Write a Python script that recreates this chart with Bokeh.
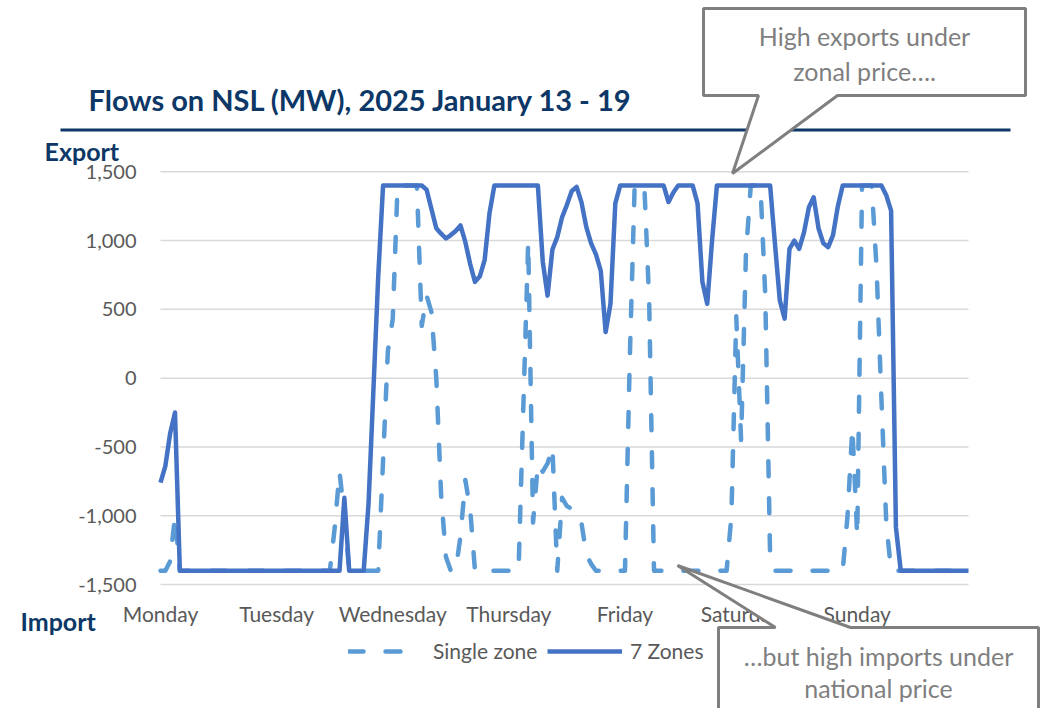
from bokeh.plotting import figure
from bokeh.models import (Range1d, FixedTicker, NumeralTickFormatter, Label,
                          PolyAnnotation, Legend, LegendItem)
from bokeh.embed import file_html
from bokeh.resources import INLINE

# Hourly flows on the NSL interconnector (MW), Monday 13 to Sunday 19 January 2025.
# Positive = export, negative = import.
hours = list(range(168))

day_ticks = [0, 24, 48, 72, 96, 120, 144]
day_labels = ["Monday", "Tuesday", "Wednesday", "Thursday", "Friday", "Saturday", "Sunday"]

# two rows per day, 12 hourly values per row
single_zone = [
    -1400, -1400, -1330, -1000, -1400, -1400, -1400, -1400, -1400, -1400, -1400, -1400,
    -1400, -1400, -1400, -1400, -1400, -1400, -1400, -1400, -1400, -1400, -1400, -1400,
    -1400, -1400, -1400, -1400, -1400, -1400, -1400, -1400, -1400, -1400, -1400, -1400,
    -1090, -680, -1000, -1400, -1400, -1400, -1400, -1400, -1400, -1400, -600, 200,
    430, 1400, 1400, 1400, 1400, 1400, 380, 600, 480, 0, -850, -1300,
    -1400, -1400, -1150, -740, -950, -1400, -1400, -1400, -1400, -1400, -1400, -1400,
    -1400, -1400, -1400, -200, 990, -1050, -620, -680, -620, -500, -1400, -870,
    -930, -950, -970, -1050, -1280, -1350, -1400, -1400, -1400, -1400, -1400, -1400,
    -1400, 150, 1400, 1400, 1400, 560, -1400, -1400, -1400, -1400, -1400, -1400,
    -1400, -1400, -1400, -1400, -1400, -1400, -1400, -1400, -1400, -1400, -1000, 450,
    -450, 900, 1400, 1400, 1400, 600, -1300, -1400, -1400, -1400, -1400, -1400,
    -1400, -1400, -1400, -1400, -1400, -1400, -1400, -1400, -1400, -1400, -1000, -360,
    -1150, 1400, 1400, 1400, 800, -150, -1050, -1400, -1400, -1400, -1400, -1400,
    -1400, -1400, -1400, -1400, -1400, -1400, -1400, -1400, -1400, -1400, -1400, -1400,
]

seven_zones = [
    -760, -640, -400, -250, -1400, -1400, -1400, -1400, -1400, -1400, -1400, -1400,
    -1400, -1400, -1400, -1400, -1400, -1400, -1400, -1400, -1400, -1400, -1400, -1400,
    -1400, -1400, -1400, -1400, -1400, -1400, -1400, -1400, -1400, -1400, -1400, -1400,
    -1400, -1400, -870, -1400, -1400, -1400, -1400, -910, -90, 740, 1400, 1400,
    1400, 1400, 1400, 1400, 1400, 1400, 1400, 1370, 1230, 1090, 1050, 1015,
    1040, 1070, 1110, 990, 830, 700, 740, 860, 1200, 1400, 1400, 1400,
    1400, 1400, 1400, 1400, 1400, 1400, 1400, 850, 600, 935, 1025, 1170,
    1260, 1360, 1390, 1280, 1100, 980, 900, 780, 335, 540, 1270, 1400,
    1400, 1400, 1400, 1400, 1400, 1400, 1400, 1400, 1400, 1280, 1350, 1400,
    1400, 1400, 1400, 1270, 700, 540, 1000, 1400, 1400, 1400, 1400, 1400,
    1400, 1400, 1400, 1400, 1400, 1400, 1400, 978, 565, 433, 940, 1000,
    940, 1060, 1240, 1315, 1090, 980, 952, 1040, 1250, 1400, 1400, 1400,
    1400, 1400, 1400, 1400, 1400, 1400, 1330, 1218, -1083, -1400, -1400, -1400,
    -1400, -1400, -1400, -1400, -1400, -1400, -1400, -1400, -1400, -1400, -1400, -1400,
]

y_ticks = [-1500, -1000, -500, 0, 500, 1000, 1500]

# ---- page geometry -------------------------------------------------------
W, H = 1040, 708
PL, PR = 160.0, 968.0          # page x of the first / last hour
PT, PB = 171.3, 584.0          # page y of the top / bottom gridline

kx = (PR - PL) / (hours[-1] - hours[0])
ky = (PB - PT) / (y_ticks[-1] - y_ticks[0])
x_start = hours[0] - PL / kx
x_end = hours[-1] + (W - PR) / kx
y_end = y_ticks[-1] + PT / ky
y_start = y_ticks[0] - (H - PB) / ky

NAVY = "#0c3766"
GREY_TEXT = "#595959"
CALLOUT = "#7f7f7f"
FONT = "Lato"


def sx(px):
    """page x (px from left) -> screen x"""
    return px


def sy(py):
    """page y (px from top) -> screen y (measured up from the bottom)"""
    return H - py


# the frame covers the whole page; axes are pinned inside it
p = figure(width=W, height=H,
           x_range=Range1d(x_start, x_end), y_range=Range1d(y_start, y_end),
           min_border=0, min_border_left=0, min_border_right=0,
           min_border_top=0, min_border_bottom=0,
           toolbar_location=None, output_backend="svg")
p.outline_line_color = None
p.background_fill_color = "white"
p.border_fill_color = "white"

p.yaxis.fixed_location = hours[0]
p.xaxis.fixed_location = y_ticks[0]
p.yaxis.ticker = FixedTicker(ticks=y_ticks)
p.yaxis.formatter = NumeralTickFormatter(format="0,0")
p.xaxis.ticker = FixedTicker(ticks=day_ticks)
p.xaxis.major_label_overrides = {t: d for t, d in zip(day_ticks, day_labels)}
for ax in (p.xaxis, p.yaxis):
    ax.axis_line_color = None
    ax.major_tick_line_color = None
    ax.minor_tick_line_color = None
    ax.major_label_text_font = FONT
    ax.major_label_text_font_size = "20px"
    ax.major_label_text_color = GREY_TEXT
p.yaxis.major_label_standoff = 18
p.xaxis.major_label_standoff = 10
p.xaxis.major_label_text_font_size = "21px"

# horizontal gridlines across the plotted hours only
p.xgrid.visible = False
p.ygrid.visible = False
p.segment(x0=[hours[0]] * len(y_ticks), x1=[hours[-1]] * len(y_ticks),
          y0=y_ticks, y1=y_ticks, line_color="#d9d9d9", line_width=1.5)

# series
r_single = p.line(hours, single_zone, line_color="#5b9bd5", line_width=4.5,
                  line_dash="15 22", line_cap="round", line_join="round")
r_zones = p.line(hours, seven_zones, line_color="#4472c4", line_width=4.5,
                 line_join="round")

# legend under the day labels
leg_common = dict(orientation="horizontal", padding=0, margin=0, spacing=0,
                  border_line_color=None, background_fill_alpha=0,
                  glyph_height=20, label_height=20,
                  label_text_font=FONT, label_text_font_size="21px",
                  label_text_color=GREY_TEXT)
leg1 = Legend(items=[LegendItem(label="Single zone", renderers=[r_single])],
              location=(sx(348), sy(663)), glyph_width=64, label_standoff=21, **leg_common)
leg2 = Legend(items=[LegendItem(label="7 Zones", renderers=[r_zones])],
              location=(sx(547), sy(663)), glyph_width=75, label_standoff=8, **leg_common)
p.add_layout(leg1)
p.add_layout(leg2)

# title and rule
p.add_layout(Label(x=sx(88), y=sy(99), x_units="screen", y_units="screen",
                   text="Flows on NSL (MW), 2025 January 13 - 19",
                   text_font=FONT, text_font_style="bold", text_font_size="29px",
                   text_color=NAVY, text_baseline="middle"))
p.add_layout(PolyAnnotation(xs=[sx(60), sx(1010), sx(1010), sx(60)],
                            ys=[sy(128), sy(128), sy(131), sy(131)],
                            xs_units="screen", ys_units="screen",
                            fill_color=NAVY, fill_alpha=1, line_color=None))

# direction labels
p.add_layout(Label(x=sx(44), y=sy(150), x_units="screen", y_units="screen",
                   text="Export", text_font=FONT, text_font_style="bold",
                   text_font_size="25px", text_color=NAVY, text_baseline="middle"))
p.add_layout(Label(x=sx(20), y=sy(620), x_units="screen", y_units="screen",
                   text="Import", text_font=FONT, text_font_style="bold",
                   text_font_size="25px", text_color=NAVY, text_baseline="middle"))

# callouts
call1 = [(703, 8), (1025, 8), (1025, 95), (837, 95), (732, 173), (758, 95), (703, 95)]
call2 = [(718, 627), (775, 627), (677, 565), (850, 627), (1038, 627), (1038, 745), (718, 745)]
for pts in (call1, call2):
    p.add_layout(PolyAnnotation(xs=[sx(x) for x, _ in pts], ys=[sy(y) for _, y in pts],
                                xs_units="screen", ys_units="screen",
                                fill_color="white", fill_alpha=1,
                                line_color=CALLOUT, line_alpha=1, line_width=3))

callout_text = [
    ("High exports under", 864, 35),
    ("zonal price\u2026.", 864, 70),
    ("\u2026but high imports under", 878, 655),
    ("national price", 878, 687),
]
for txt, x, y in callout_text:
    p.add_layout(Label(x=sx(x), y=sy(y), x_units="screen", y_units="screen",
                       text=txt, text_font=FONT, text_font_size="25px",
                       text_color=CALLOUT, text_align="center", text_baseline="middle"))

open("out.html", "w").write(file_html(p, INLINE))
